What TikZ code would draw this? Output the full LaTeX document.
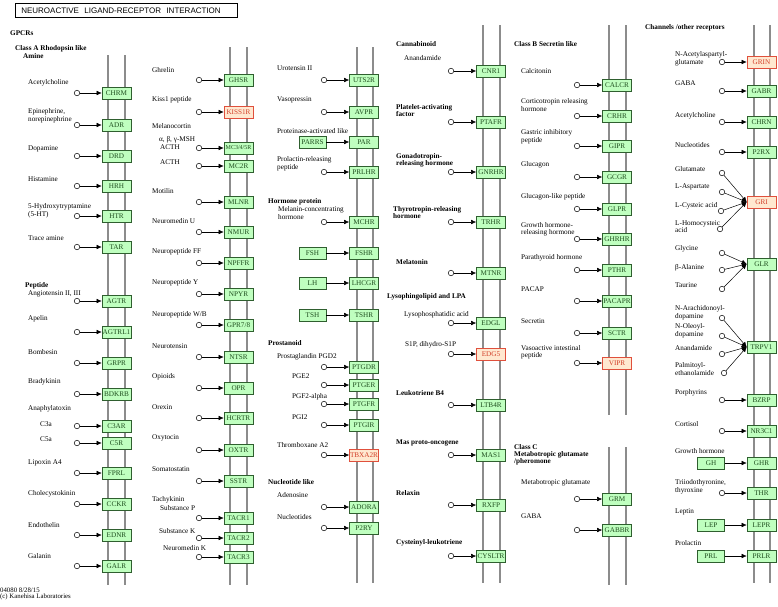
\documentclass[tikz,border=0pt]{standalone}
\usepackage{fontspec}
\setmainfont{Liberation Serif}
\newfontfamily\titlefont{Liberation Sans}
\usetikzlibrary{arrows.meta}
\definecolor{memb}{HTML}{8C8C8C}
\definecolor{gfill}{HTML}{BFFFBF}
\definecolor{gdraw}{HTML}{2F5F2F}
\definecolor{gtext}{HTML}{1F4F1F}
\definecolor{rdraw}{HTML}{E0503C}
\definecolor{rtext}{HTML}{D2402A}
\definecolor{rfill}{HTML}{FFE8D0}
\newcommand\LR[6]{\node[lig] (c#1) at (#2,#4) {}; \node[#6] (g#1) at (#3,#4) {#5}; \draw[act] (c#1) -- (g#1);}
\begin{document}
\begin{tikzpicture}[x=1pt,y=-1pt,
  gene/.style={draw=gdraw, fill=gfill, line width=0.6pt, minimum width=29pt, minimum height=12pt, inner sep=0pt, font=\fontsize{7.2}{7.2}\selectfont, text=gtext},
  rgene/.style={gene, draw=rdraw, fill=rfill, text=rtext},
  lgene/.style={gene, minimum width=27pt},
  lig/.style={circle, draw, fill=white, line width=0.5pt, minimum size=5.5pt, inner sep=0pt},
  lab/.style={anchor=west, inner sep=0pt, align=left, font=\fontsize{7.2}{6.5}\selectfont},
  hdr/.style={anchor=west, inner sep=0pt, align=left, font=\fontsize{7.2}{6.5}\selectfont\bfseries},
  act/.style={-{Latex[length=5pt,width=4.5pt]}, line width=0.5pt},
  memline/.style={draw=memb, line width=1.8pt}
]
\useasboundingbox (0,0) rectangle (778,606);
\fill[white] (0,0) rectangle (778,606);
% title
\node[draw, line width=0.6pt, anchor=north west, minimum height=14pt, text width=210pt, inner xsep=6pt, inner ysep=0pt, align=left, font=\titlefont\fontsize{8}{8}\selectfont] (title) at (15,3) {NEUROACTIVE\ \ LIGAND-RECEPTOR\ \ INTERACTION};
% membranes
\draw[memline] (108,55) -- (108,585) (125,55) -- (125,585);
\draw[memline] (230,47) -- (230,585) (247,47) -- (247,585);
\draw[memline] (357,47) -- (357,583) (373,47) -- (373,583);
\draw[memline] (483,25) -- (483,583) (500,25) -- (500,583);
\draw[memline] (609,25) -- (609,415) (626,25) -- (626,415);
\draw[memline] (609,447) -- (609,585) (626,447) -- (626,585);
\draw[memline] (754,25) -- (754,583) (770,25) -- (770,583);

% ---------- column 1 ----------
\node[hdr] (hGPCR) at (10,33) {GPCRs};
\node[hdr] (hClassA) at (15,52) {Class A Rhodopsin like\\\hspace*{8pt}Amine};
\node[lab] (l1a) at (28,83) {Acetylcholine};
\LR{CHRM}{77}{116.5}{93}{CHRM}{gene}
\node[lab] (l1b) at (28,115.5) {Epinephrine,\\norepinephrine};
\LR{ADR}{77}{116.5}{125}{ADR}{gene}
\node[lab] (l1c) at (28,149) {Dopamine};
\LR{DRD}{77}{116.5}{156}{DRD}{gene}
\node[lab] (l1d) at (28,179) {Histamine};
\LR{HRH}{77}{116.5}{186}{HRH}{gene}
\node[lab] (l1e) at (28,210.5) {5-Hydroxytryptamine\\(5-HT)};
\LR{HTR}{77}{116.5}{216}{HTR}{gene}
\node[lab] (l1f) at (28,238) {Trace amine};
\LR{TAR}{77}{116.5}{247}{TAR}{gene}
\node[hdr] (hPep) at (25,286) {Peptide};
\node[lab] (l1g) at (28,294) {Angiotensin II, III};
\LR{AGTR}{77}{116.5}{301}{AGTR}{gene}
\node[lab] (l1h) at (28,319) {Apelin};
\LR{AGTRL}{77}{116.5}{332}{AGTRL1}{gene}
\node[lab] (l1i) at (28,352) {Bombesin};
\LR{GRPR}{77}{116.5}{363}{GRPR}{gene}
\node[lab] (l1j) at (28,382) {Bradykinin};
\LR{BDKRB}{77}{116.5}{394}{BDKRB}{gene}
\node[lab] (l1k) at (28,409) {Anaphylatoxin};
\node[lab] (l1l) at (40,424) {C3a};
\LR{CTAR}{77}{116.5}{426}{C3AR}{gene}
\node[lab] (l1m) at (40,439) {C5a};
\LR{CFR}{77}{116.5}{443}{C5R}{gene}
\node[lab] (l1n) at (28,463) {Lipoxin A4};
\LR{FPRL}{77}{116.5}{473}{FPRL}{gene}
\node[lab] (l1o) at (28,494) {Cholecystokinin};
\LR{CCKR}{77}{116.5}{504}{CCKR}{gene}
\node[lab] (l1p) at (28,525) {Endothelin};
\LR{EDNR}{77}{116.5}{535}{EDNR}{gene}
\node[lab] (l1q) at (28,556) {Galanin};
\LR{GALR}{77}{116.5}{566}{GALR}{gene}
\node[lab, font=\fontsize{6.8}{6.8}\selectfont] (foot1) at (0,590) {04080 8/28/15};
\node[lab, font=\fontsize{6.8}{6.8}\selectfont] (foot2) at (0,597) {(c) Kanehisa Laboratories};

% ---------- column 2 ----------
\node[lab] (l2a) at (152,70) {Ghrelin};
\LR{GHSR}{199}{238.5}{80}{GHSR}{gene}
\node[lab] (l2b) at (152,100) {Kiss1 peptide};
\LR{KISS}{199}{238.5}{112}{KISS1R}{rgene}
\node[lab] (l2c) at (152,126) {Melanocortin};
\node[lab, font=\fontsize{7.2}{4.5}\selectfont] (l2d) at (159,143) {α, β, γ-MSH\\\hspace*{1pt}ACTH};
\LR{MCR}{199}{238.5}{148}{\fontsize{6}{6}\selectfont MC3/4/5R}{gene}
\node[lab] (l2e) at (160,162) {ACTH};
\LR{MCTR}{199}{238.5}{166}{MC2R}{gene}
\node[lab] (l2f) at (152,191) {Motilin};
\LR{MLNR}{199}{238.5}{202}{MLNR}{gene}
\node[lab] (l2g) at (152,221) {Neuromedin U};
\LR{NMUR}{199}{238.5}{232}{NMUR}{gene}
\node[lab] (l2h) at (152,252) {Neuropeptide FF};
\LR{NPFFR}{199}{238.5}{263}{NPFFR}{gene}
\node[lab] (l2i) at (152,283) {Neuropeptide Y};
\LR{NPYR}{199}{238.5}{294}{NPYR}{gene}
\node[lab] (l2j) at (152,315) {Neuropeptide W/B};
\LR{GPR}{199}{238.5}{325}{GPR7/8}{gene}
\node[lab] (l2k) at (152,346) {Neurotensin};
\LR{NTSR}{199}{238.5}{357}{NTSR}{gene}
\node[lab] (l2l) at (152,377) {Opioids};
\LR{OPR}{199}{238.5}{388}{OPR}{gene}
\node[lab] (l2m) at (152,407) {Orexin};
\LR{HCRTR}{199}{238.5}{418}{HCRTR}{gene}
\node[lab] (l2n) at (152,438) {Oxytocin};
\LR{OXTR}{199}{238.5}{450}{OXTR}{gene}
\node[lab] (l2o) at (152,469) {Somatostatin};
\LR{SSTR}{199}{238.5}{481}{SSTR}{gene}
\node[lab] (l2p) at (152,500) {Tachykinin};
\node[lab] (l2q) at (160,508) {Substance P};
\LR{TACRa}{199}{238.5}{518}{TACR1}{gene}
\node[lab] (l2r) at (159,531) {Substance K};
\LR{TACRb}{199}{238.5}{538}{TACR2}{gene}
\node[lab] (l2s) at (163,548) {Neuromedin K};
\LR{TACRc}{199}{238.5}{557}{TACR3}{gene}

% ---------- column 3 ----------
\node[lab] (l3a) at (277,68) {Urotensin II};
\LR{UTSR}{324}{364}{80}{UTS2R}{gene}
\node[lab] (l3b) at (277,100) {Vasopressin};
\LR{AVPR}{324}{364}{112}{AVPR}{gene}
\node[lab] (l3c) at (277,131) {Proteinase-activated like};
\node[lgene] (gPARRS) at (312.5,142) {PARRS};
\node[gene] (gPAR) at (364,142) {PAR};
\draw[act] (gPARRS) -- (gPAR);
\node[lab] (l3d) at (277,164) {Prolactin-releasing\\peptide};
\LR{PRLHR}{324}{364}{172}{PRLHR}{gene}
\node[hdr] (hHorm) at (268,202) {Hormone protein};
\node[lab] (l3e) at (278,213) {Melanin-concentrating\\hormone};
\LR{MCHR}{324}{364}{222}{MCHR}{gene}
\node[lgene] (gFSH) at (312.5,253) {FSH};
\node[gene] (gFSHR) at (364,253) {FSHR};
\draw[act] (gFSH) -- (gFSHR);
\node[lgene] (gLH) at (312.5,283) {LH};
\node[gene] (gLHCGR) at (364,283) {LHCGR};
\draw[act] (gLH) -- (gLHCGR);
\node[lgene] (gTSH) at (312.5,315) {TSH};
\node[gene] (gTSHR) at (364,315) {TSHR};
\draw[act] (gTSH) -- (gTSHR);
\node[hdr] (hPros) at (268,343) {Prostanoid};
\node[lab] (l3f) at (277,357) {Prostaglandin PGD2};
\LR{PTGDR}{324}{364}{367}{PTGDR}{gene}
\node[lab] (l3g) at (292,376) {PGE2};
\LR{PTGER}{324}{364}{385}{PTGER}{gene}
\node[lab] (l3h) at (292,397) {PGF2-alpha};
\LR{PTGFR}{324}{364}{404}{PTGFR}{gene}
\node[lab] (l3i) at (292,417) {PGI2};
\LR{PTGIR}{324}{364}{425}{PTGIR}{gene}
\node[lab] (l3j) at (277,445) {Thromboxane A2};
\LR{TBXR}{324}{364}{455}{TBXA2R}{rgene}
\node[hdr] (hNucl) at (268,482) {Nucleotide like};
\node[lab] (l3k) at (277,495) {Adenosine};
\LR{ADORA}{324}{364}{507}{ADORA}{gene}
\node[lab] (l3l) at (277,517) {Nucleotides};
\LR{PRY}{324}{364}{528}{P2RY}{gene}

% ---------- column 4 ----------
\node[hdr] (hCann) at (396,44) {Cannabinoid};
\node[lab] (l4a) at (404,58) {Anandamide};
\LR{CNR}{451}{491}{71}{CNR1}{gene}
\node[hdr] (hPAF) at (396,110.5) {Platelet-activating\\factor};
\LR{PTAFR}{451}{491}{122}{PTAFR}{gene}
\node[hdr] (hGnRH) at (396,160.5) {Gonadotropin-\\releasing hormone};
\LR{GNRHR}{451}{491}{172}{GNRHR}{gene}
\node[hdr] (hTRH) at (393,212.5) {Thyrotropin-releasing\\hormone};
\LR{TRHR}{451}{491}{222}{TRHR}{gene}
\node[hdr] (hMel) at (396,262) {Melatonin};
\LR{MTNR}{451}{491}{273}{MTNR}{gene}
\node[hdr] (hLyso) at (387,297) {Lysophingolipid and LPA};
\node[lab] (l4b) at (404,315) {Lysophosphatidic acid};
\LR{EDGL}{451}{491}{323}{EDGL}{gene}
\node[lab] (l4c) at (405,345) {S1P, dihydro-S1P};
\LR{EDGF}{451}{491}{354}{EDG5}{rgene}
\node[hdr] (hLTB) at (396,393) {Leukotriene B4};
\LR{LTBR}{451}{491}{405}{LTB4R}{gene}
\node[hdr] (hMas) at (396,443) {Mas proto-oncogene};
\LR{MAS}{451}{491}{455}{MAS1}{gene}
\node[hdr] (hRlx) at (396,493) {Relaxin};
\LR{RXFP}{451}{491}{505}{RXFP}{gene}
\node[hdr] (hCys) at (396,543) {Cysteinyl-leukotriene};
\LR{CYSLTR}{451}{491}{556}{CYSLTR}{gene}

% ---------- column 5 ----------
\node[hdr] (hClassB) at (514,44) {Class B Secretin like};
\node[lab] (l5a) at (521,71) {Calcitonin};
\LR{CALCR}{577}{617}{85}{CALCR}{gene}
\node[lab] (l5b) at (521,105) {Corticotropin releasing\\hormone};
\LR{CRHR}{577}{617}{116}{CRHR}{gene}
\node[lab] (l5c) at (521,136.5) {Gastric inhibitory\\peptide};
\LR{GIPR}{577}{617}{146}{GIPR}{gene}
\node[lab] (l5d) at (521,165) {Glucagon};
\LR{GCGR}{577}{617}{177}{GCGR}{gene}
\node[lab] (l5e) at (521,197) {Glucagon-like peptide};
\LR{GLPR}{577}{617}{209}{GLPR}{gene}
\node[lab] (l5f) at (521,229.5) {Growth hormone-\\releasing hormone};
\LR{GHRHR}{577}{617}{239}{GHRHR}{gene}
\node[lab] (l5g) at (521,258) {Parathyroid hormone};
\LR{PTHR}{577}{617}{270}{PTHR}{gene}
\node[lab] (l5h) at (521,289) {PACAP};
\LR{PACAPR}{577}{617}{301}{PACAPR}{gene}
\node[lab] (l5i) at (521,321) {Secretin};
\LR{SCTR}{577}{617}{333}{SCTR}{gene}
\node[lab] (l5j) at (521,352.5) {Vasoactive intestinal\\peptide};
\LR{VIPR}{577}{617}{363}{VIPR}{rgene}
\node[hdr] (hClassC) at (514,455) {Class C\\Metabotropic glutamate\\/pheromone};
\node[lab] (l5k) at (521,483) {Metabotropic glutamate};
\LR{GRM}{577}{617}{499}{GRM}{gene}
\node[lab] (l5l) at (521,516) {GABA};
\LR{GABBR}{577}{617}{530}{GABBR}{gene}

% ---------- column 6 ----------
\node[hdr] (hChan) at (645,28) {Channels /other receptors};
\node[lab] (l6a) at (675,58.5) {N-Acetylaspartyl-\\glutamate};
\LR{GRIN}{722}{761.5}{62}{GRIN}{rgene}
\node[lab] (l6b) at (675,83) {GABA};
\LR{GABR}{722}{761.5}{91}{GABR}{gene}
\node[lab] (l6c) at (675,116) {Acetylcholine};
\LR{CHRN}{722}{761.5}{122}{CHRN}{gene}
\node[lab] (l6d) at (675,145) {Nucleotides};
\LR{PRX}{722}{761.5}{152}{P2RX}{gene}
% GRI
\node[rgene] (gGRI) at (761.5,202) {GRI};
\node[lab] (l6e) at (675,169) {Glutamate};
\node[lig] (cGlu) at (722,173) {};
\node[lab] (l6f) at (675,187) {L-Aspartate};
\node[lig] (cAsp) at (722,192) {};
\node[lab] (l6g) at (675,206) {L-Cysteic acid};
\node[lig] (cCys) at (721,211) {};
\node[lab] (l6h) at (675,226.5) {L-Homocysteic\\acid};
\node[lig] (cHcy) at (720,229) {};
\draw[act] (cGlu) -- (gGRI.west);
\draw[act] (cAsp) -- (gGRI.west);
\draw[act] (cCys) -- (gGRI.west);
\draw[act] (cHcy) -- (gGRI.west);
% GLR
\node[gene] (gGLR) at (761.5,264) {GLR};
\node[lab] (l6i) at (675,249) {Glycine};
\node[lig] (cGly) at (722,253) {};
\node[lab] (l6j) at (675,268) {β-Alanine};
\node[lig] (cAla) at (722,270) {};
\node[lab] (l6k) at (675,285) {Taurine};
\node[lig] (cTau) at (722,289) {};
\draw[act] (cGly) -- (gGLR.west);
\draw[act] (cAla) -- (gGLR.west);
\draw[act] (cTau) -- (gGLR.west);
% TRPV1
\node[gene] (gTRPV) at (761.5,347) {TRPV1};
\node[lab] (l6l) at (675,313) {N-Arachidonoyl-\\dopamine};
\node[lig] (cNAD) at (722,318) {};
\node[lab] (l6m) at (675,331) {N-Oleoyl-\\dopamine};
\node[lig] (cOLD) at (722,336) {};
\node[lab] (l6n) at (675,348) {Anandamide};
\node[lig] (cAEA) at (722,354) {};
\node[lab] (l6o) at (675,369) {Palmitoyl-\\ethanolamide};
\node[lig] (cPEA) at (724,373) {};
\draw[act] (cNAD) -- (gTRPV.west);
\draw[act] (cOLD) -- (gTRPV.west);
\draw[act] (cAEA) -- (gTRPV.west);
\draw[act] (cPEA) -- (gTRPV.west);
\node[lab] (l6p) at (675,393) {Porphyrins};
\LR{BZRP}{722}{761.5}{400}{BZRP}{gene}
\node[lab] (l6q) at (675,424) {Cortisol};
\LR{NRC}{722}{761.5}{431}{NR3C1}{gene}
\node[lab] (l6r) at (675,451) {Growth hormone};
\node[lgene] (gGH) at (711,463) {GH};
\node[gene] (gGHR) at (761.5,463) {GHR};
\draw[act] (gGH) -- (gGHR);
\node[lab] (l6s) at (675,486.5) {Triiodothyronine,\\thyroxine};
\LR{THR}{722}{761.5}{493}{THR}{gene}
\node[lab] (l6t) at (675,512) {Leptin};
\node[lgene] (gLEP) at (711,525) {LEP};
\node[gene] (gLEPR) at (761.5,525) {LEPR};
\draw[act] (gLEP) -- (gLEPR);
\node[lab] (l6u) at (675,543) {Prolactin};
\node[lgene] (gPRL) at (711,556) {PRL};
\node[gene] (gPRLR) at (761.5,556) {PRLR};
\draw[act] (gPRL) -- (gPRLR);
\end{tikzpicture}
\end{document}
